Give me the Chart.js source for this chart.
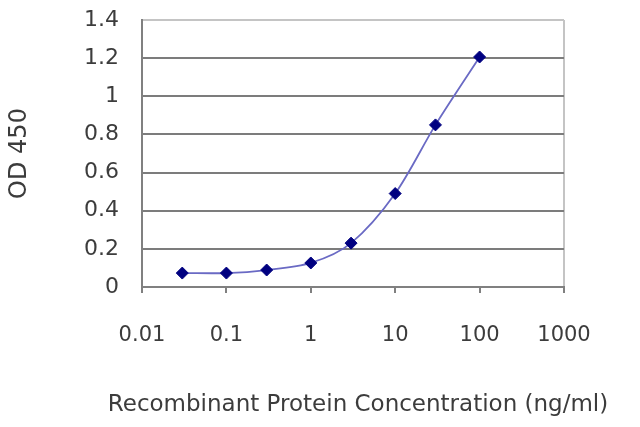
<!DOCTYPE html>
<html>
<head>
<meta charset="utf-8">
<script src="https://cdn.jsdelivr.net/npm/chart.js@4/dist/chart.umd.min.js"></script>
<style>
  html, body { margin: 0; padding: 0; background: #fff; }
  #grafico { display: block; }
</style>
</head>
<body>
<canvas id="grafico" width="640" height="427"></canvas>
<script>
// datos
const concentraciones = [0.03, 0.1, 0.3, 1, 3, 10, 30, 100];
const valoresOD = [0.073, 0.073, 0.089, 0.126, 0.23, 0.49, 0.85, 1.206];
const xTicks = [0.01, 0.1, 1, 10, 100, 1000];
const xTickLabels = ['0.01', '0.1', '1', '10', '100', '1000'];
const yTicks = [0, 0.2, 0.4, 0.6, 0.8, 1, 1.2, 1.4];
const yTickLabels = ['0', '0.2', '0.4', '0.6', '0.8', '1', '1.2', '1.4'];
const tituloX = 'Recombinant Protein Concentration (ng/ml)';

const fuente = "'DejaVu Sans', sans-serif";
const colorTexto = '#3c3c3c';

// el titulo del eje x es mas ancho que el area del grafico, lo pintamos aparte
const tituloEjeX = {
    id: 'tituloEjeX',
    afterDraw(chart) {
        const c = chart.ctx;
        c.save();
        c.font = '23px ' + fuente;
        c.fillStyle = colorTexto;
        c.textAlign = 'center';
        c.textBaseline = 'middle';
        c.fillText(tituloX, 358, 405);
        c.restore();
    }
};

function crearGrafico(id) {
    const canvas = document.getElementById(id);
    const ctx = canvas.getContext('2d');

    return new Chart(ctx, {
        type: 'line',
        data: {
            datasets: [{
                label: 'OD 450',
                data: concentraciones.map((c, i) => ({ x: c, y: valoresOD[i] })),
                borderColor: '#6a6ac4',
                borderWidth: 1.8,
                tension: 0.3,
                pointStyle: 'rectRot',
                pointRadius: 6,
                pointBackgroundColor: '#000080',
                pointBorderColor: '#000080',
                pointBorderWidth: 1
            }]
        },
        options: {
            responsive: false,
            animation: false,
            layout: { padding: { left: 0, right: 76, top: 20, bottom: 8 } },
            plugins: {
                legend: { display: false },
                tooltip: { enabled: false }
            },
            scales: {
                x: {
                    type: 'logarithmic',
                    min: 0.01,
                    max: 1000,
                    afterBuildTicks: (scale) => {
                        scale.ticks = xTicks.map(v => ({ value: v }));
                    },
                    afterFit: (scale) => {
                        scale.height = 132;
                        scale.paddingLeft = 0;
                        scale.paddingRight = 0;
                    },
                    ticks: {
                        autoSkip: false,
                        maxRotation: 0,
                        padding: 30,
                        color: colorTexto,
                        font: { family: fuente, size: 21 },
                        callback: (v) => xTickLabels[xTicks.indexOf(v)]
                    },
                    grid: {
                        drawOnChartArea: true,
                        drawTicks: true,
                        tickLength: 6,
                        color: (c) => (c.index === xTicks.length - 1 ? '#c4c4c4' : 'rgba(0,0,0,0)'),
                        tickColor: '#808080',
                        lineWidth: 2
                    },
                    border: { color: '#808080', width: 2 },
                    title: { display: false }
                },
                y: {
                    min: 0,
                    max: 1.4,
                    afterBuildTicks: (scale) => {
                        scale.ticks = yTicks.map(v => ({ value: v }));
                    },
                    afterFit: (scale) => {
                        scale.width = 142;
                        scale.paddingTop = 0;
                        scale.paddingBottom = 0;
                    },
                    ticks: {
                        padding: 23,
                        color: colorTexto,
                        font: { family: fuente, size: 22 },
                        callback: (v) => yTickLabels[yTicks.indexOf(v)]
                    },
                    grid: {
                        drawTicks: false,
                        color: (c) => (c.index === yTicks.length - 1 ? '#c4c4c4' : '#7c7c7c'),
                        lineWidth: 2
                    },
                    border: { color: '#808080', width: 2 },
                    title: {
                        display: true,
                        text: 'OD 450',
                        color: colorTexto,
                        font: { family: fuente, size: 24 },
                        padding: { top: 5, bottom: 0 }
                    }
                }
            }
        },
        plugins: [tituloEjeX]
    });
}

crearGrafico('grafico');
</script>
</body>
</html>
